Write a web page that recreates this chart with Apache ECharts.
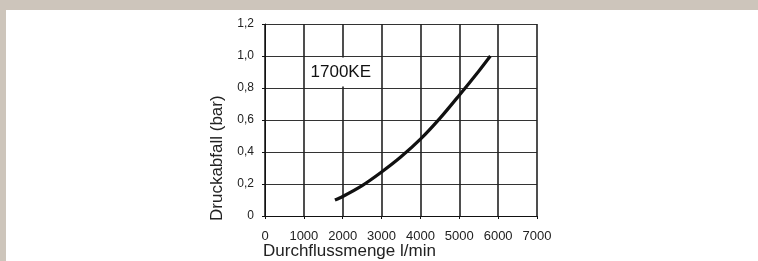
<!DOCTYPE html>
<html><head><meta charset="utf-8">
<script src="https://cdn.jsdelivr.net/npm/echarts@6/dist/echarts.min.js"></script>
<style>
html,body{margin:0;padding:0;background:#fff;}
#wrap{width:758px;height:261px;box-sizing:border-box;border-top:10px solid #cdc5bb;border-left:6px solid #cdc5bb;position:relative;overflow:hidden;}
#c{position:absolute;left:-6px;top:-10px;width:758px;height:261px;}
</style></head>
<body><div id="wrap"><div id="c"></div></div>
<script>
const flow = [1800, 2000, 2500, 3000, 3500, 4000, 4500, 5000, 5500, 5800];
const drop = [0.10, 0.122, 0.19, 0.275, 0.37, 0.48, 0.61, 0.755, 0.905, 1.0];
const seriesName = '1700KE';
const xTitle = 'Durchflussmenge l/min';
const yTitle = 'Druckabfall (bar)';

const chart = echarts.init(document.getElementById('c'), null, {renderer:'canvas'});
const font = 'Liberation Sans, Arial, Helvetica, sans-serif';
chart.setOption({
  animation:false,
  grid:{left:265, right:221, top:24, bottom:45},
  xAxis:{type:'value', min:0, max:7000, interval:1000,
    axisLine:{show:true, lineStyle:{color:'#111', width:1}},
    axisTick:{show:true, length:3, lineStyle:{color:'#111'}},
    axisLabel:{margin:14, color:'#222', fontSize:13, fontFamily:font, formatter:v=>String(v)},
    splitLine:{show:true, lineStyle:{color:'#222', width:1.6}}},
  yAxis:{type:'value', min:0, max:1.2, interval:0.2,
    axisLine:{show:true, lineStyle:{color:'#111', width:1}},
    axisTick:{show:true, length:3, lineStyle:{color:'#111'}},
    axisLabel:{margin:11, color:'#222', fontSize:12, fontFamily:font,
      formatter:v=> v===0 ? '0' : v.toFixed(1).replace('.',',')},
    splitLine:{show:true, lineStyle:{color:'#333', width:1}}},
  graphic:[
    {type:'text', left:263, top:243, style:{text:xTitle, font:'17px '+font, fill:'#222'}},
    {type:'text', x:217, y:221, rotation:Math.PI/2, style:{text:yTitle, font:'17px '+font, fill:'#222', align:'left', verticalAlign:'middle'}}
  ],
  series:[{type:'line', name:seriesName, smooth:0.3, symbol:'none',
    data: flow.map((x,i)=>[x, drop[i]]),
    lineStyle:{color:'#111', width:3.2},
    markPoint:{symbol:'rect', symbolSize:1, itemStyle:{color:'transparent'},
      label:{show:true, position:'inside', formatter:seriesName, fontSize:17, fontFamily:font, color:'#111',
        backgroundColor:'#fff', padding:[6,3,6,3]},
      data:[{coord:[1950, 0.9]}]}
  }]
});
</script></body></html>
